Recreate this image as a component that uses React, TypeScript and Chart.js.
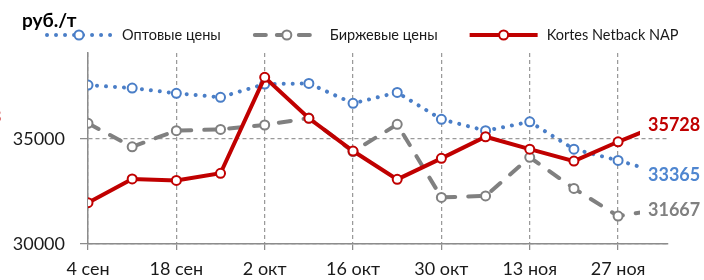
import React, { useEffect, useRef } from "react";
import { Chart, registerables } from "chart.js";

Chart.register(...registerables);

const weeks = ["4 сен", "11 сен", "18 сен", "25 сен", "2 окт", "9 окт", "16 окт", "23 окт", "30 окт", "6 ноя", "13 ноя", "20 ноя", "27 ноя", "4 дек"];
const optValues = [37570, 37430, 37180, 36990, 37620, 37650, 36700, 37220, 35940, 35400, 35820, 34520, 33980, 33365];
const birzhValues = [35750, 34630, 35400, 35460, 35670, 36000, 34400, 35700, 32220, 32290, 34130, 32650, 31330, 31667];
const kortesValues = [31970, 33100, 33030, 33370, 37940, 35990, 34430, 33080, 34080, 35110, 34520, 33950, 34870, 35728];
const xTickIdx = [0, 2, 4, 6, 8, 10, 12];
const yTicks = [30000, 35000];
const seriesNames = ["Оптовые цены", "Биржевые цены", "Kortes Netback NAP"];
const unitLabel = "руб./т";

const BLUE = "#4A7EC7";
const BLUE_LABEL = "#4F86D0";
const GRAY = "#808080";
const RED = "#C00000";
const FONT = 'Lato, "Liberation Sans", sans-serif';

const toPts = (arr: number[]) => arr.map((v, i) => ({ x: i, y: v }));

export default function App() {
  const ref = useRef<HTMLCanvasElement | null>(null);

  useEffect(() => {
    document.body.style.margin = "0";
    const canvas = ref.current;
    if (!canvas) return;

    const overlay = {
      id: "overlay",
      afterDatasetsDraw(chart: any) {
        const { ctx, chartArea, scales } = chart;
        const y = scales.y;
        ctx.save();
        const ends = [
          { v: kortesValues[kortesValues.length - 1], c: RED },
          { v: optValues[optValues.length - 1], c: BLUE_LABEL },
          { v: birzhValues[birzhValues.length - 1], c: GRAY },
        ];
        ctx.font = `bold 18px ${FONT}`;
        ctx.textBaseline = "middle";
        ctx.textAlign = "left";
        for (const e of ends) {
          const py = y.getPixelForValue(e.v);
          const tx = chartArea.right - 20;
          const txt = String(e.v);
          const w = ctx.measureText(txt).width;
          ctx.fillStyle = "#fff";
          ctx.fillRect(tx - 8, py - 10, w + 20, 22);
          ctx.fillStyle = e.c;
          ctx.fillText(txt, tx, py + 1.5);
        }
        ctx.restore();
      },
      afterDraw(chart: any) {
        const { ctx } = chart;
        ctx.save();
        // unit title
        ctx.font = `bold 19px ${FONT}`;
        ctx.fillStyle = "#000";
        ctx.textBaseline = "alphabetic";
        ctx.textAlign = "left";
        ctx.fillText(unitLabel, 22, 27);
        // cut-off red fragment at left edge
        ctx.font = `bold 18px ${FONT}`;
        ctx.fillStyle = RED;
        ctx.textAlign = "right";
        ctx.textBaseline = "middle";
        ctx.fillText("3", 1.5, 117);

        // legend
        const ly = 35;
        const lineLen = 68;
        let x = 45;
        ctx.font = `14.5px ${FONT}`;
        const styles = [
          { c: BLUE, dash: [0.01, 9], cap: "round" },
          { c: GRAY, dash: [11, 11], cap: "round" },
          { c: RED, dash: [], cap: "butt" },
        ];
        styles.forEach((s, i) => {
          ctx.beginPath();
          ctx.strokeStyle = s.c;
          ctx.lineWidth = 4;
          ctx.lineCap = s.cap;
          ctx.setLineDash(s.dash);
          ctx.moveTo(x + (s.cap === "round" ? 2 : 0), ly);
          ctx.lineTo(x + lineLen - (s.cap === "round" ? 2 : 0), ly);
          ctx.stroke();
          ctx.setLineDash([]);
          ctx.beginPath();
          ctx.arc(x + lineLen / 2, ly, 4.5, 0, Math.PI * 2);
          ctx.fillStyle = "#fff";
          ctx.fill();
          ctx.lineWidth = 2;
          ctx.stroke();
          ctx.fillStyle = "#1a1a1a";
          ctx.textAlign = "left";
          ctx.textBaseline = "middle";
          const tx = x + lineLen + 9;
          ctx.fillText(seriesNames[i], tx, ly);
          x = tx + ctx.measureText(seriesNames[i]).width + 32;
        });
        ctx.restore();
      },
    };

    const chart = new Chart(canvas, {
      type: "line",
      data: {
        datasets: [
          {
            label: seriesNames[2],
            data: toPts(kortesValues),
            borderColor: RED,
            borderWidth: 4,
            pointRadius: 4.5,
            pointBorderWidth: 2,
            pointBackgroundColor: "#fff",
            pointBorderColor: RED,
            tension: 0,
            order: 0,
          },
          {
            label: seriesNames[1],
            data: toPts(birzhValues),
            borderColor: GRAY,
            borderWidth: 4,
            borderDash: [12, 13],
            borderCapStyle: "round",
            pointRadius: 4.5,
            pointBorderWidth: 2,
            pointBackgroundColor: "#fff",
            pointBorderColor: GRAY,
            tension: 0,
            order: 1,
          },
          {
            label: seriesNames[0],
            data: toPts(optValues),
            borderColor: BLUE,
            borderWidth: 4,
            borderDash: [0.01, 9],
            borderCapStyle: "round",
            pointRadius: 4.5,
            pointBorderWidth: 2,
            pointBackgroundColor: "#fff",
            pointBorderColor: BLUE,
            tension: 0,
            order: 2,
          },
        ],
      },
      options: {
        responsive: false,
        animation: false,
        layout: { padding: { left: 0, right: 36, top: 53, bottom: 0 } },
        plugins: { legend: { display: false }, tooltip: { enabled: false }, title: { display: false } },
        scales: {
          x: {
            type: "linear",
            min: 0,
            max: 13.13,
            afterBuildTicks: (s: any) => {
              s.ticks = xTickIdx.map((v) => ({ value: v }));
            },
            afterFit: (s: any) => {
              s.height = 36;
            },
            ticks: {
              callback: (v: any) => weeks[v] ?? "",
              font: { family: FONT, size: 18 },
              color: "#1a1a1a",
              padding: 8,
              maxRotation: 0,
              autoSkip: false,
            },
            grid: { color: "#9a9a9a", lineWidth: 1.25, tickLength: 6, tickColor: "#8c8c8c" },
            border: { display: true, color: "#8c8c8c", width: 1.5, dash: [4, 3] },
          },
          y: {
            min: 30000,
            max: 39100,
            afterBuildTicks: (s: any) => {
              s.ticks = yTicks.map((v) => ({ value: v }));
            },
            afterFit: (s: any) => {
              s.width = 88;
            },
            ticks: {
              callback: (v: any) => String(v),
              font: { family: FONT, size: 18 },
              color: "#1a1a1a",
              padding: 15,
            },
            grid: { color: "#9a9a9a", lineWidth: 1.25, tickLength: 8, tickColor: "#8c8c8c" },
            border: { display: true, color: "#8c8c8c", width: 1.5, dash: [4, 3] },
          },
        },
      },
      plugins: [overlay],
    } as any);

    return () => chart.destroy();
  }, []);

  return (
    <div style={{ position: "fixed", left: 0, top: 0, width: 704, height: 280, background: "#fff" }}>
      <canvas ref={ref} width={704} height={280} style={{ display: "block" }} />
    </div>
  );
}
